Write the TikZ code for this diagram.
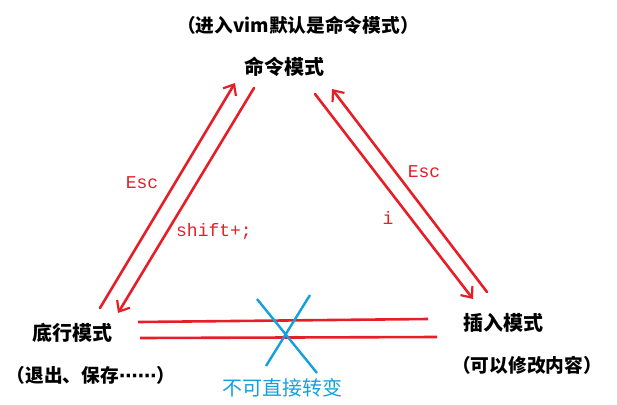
\documentclass[tikz,border=0pt]{standalone}
\usepackage{fontspec}
\setmonofont{Liberation Mono}
\newfontfamily\cjk{Noto Sans CJK SC}
\newfontfamily\symb{DejaVu Sans}
\usetikzlibrary{arrows.meta}
\definecolor{paintred}{RGB}{230,30,40}
\definecolor{paintblue}{RGB}{20,160,220}

\tikzset{
  mode/.style={anchor=center, font=\cjk\bfseries\fontsize{20}{24}\selectfont},
  note/.style={anchor=center, font=\cjk\bfseries\fontsize{18.7}{22}\selectfont},
  key/.style={anchor=center, text=paintred, font=\ttfamily\fontsize{18}{22}\selectfont},
  move/.style={paintred, line width=2.6pt, line cap=round, -{Straight Barb[length=9pt,width=15pt,line width=2.2pt]}},
  bar/.style={paintred, line width=2.6pt},
  cross/.style={paintblue, line width=2.4pt}
}

\begin{document}
\begin{tikzpicture}[x=1pt, y=-1pt]
      \useasboundingbox (0,0) rectangle (617,404);
      % modes
      \node[note] (title) at (298, 25) {（进入vim默认是命令模式）};
      \node[mode] (cmd) at (284, 67) {命令模式};
      \node[mode] (bottom) at (72, 333) {底行模式};
      \node[note] (bottomnote) at (91, 375) {（退出、保存{\symb\bfseries ⋯⋯}）};
      \node[mode] (insert) at (503, 323) {插入模式};
      \node[note] (insertnote) at (527, 365) {（可以修改内容）};
      % arrow ends
      \coordinate (lu0) at (100, 308);
      \coordinate (lu1) at (235, 83);
      \coordinate (ld0) at (254, 88);
      \coordinate (ld1) at (118, 313);
      \coordinate (rd0) at (315, 94);
      \coordinate (rd1) at (473, 299);
      \coordinate (ru0) at (487, 292);
      \coordinate (ru1) at (332, 89);
      \draw[move] (lu0) -- (lu1);
      \draw[move] (ld0) -- (ld1);
      \draw[move] (rd0) -- (rd1);
      \draw[move] (ru0) -- (ru1);
      \node[key] (escl) at (142, 183) {Esc};
      \node[key] (shift) at (214, 232) {shift+;};
      \node[key] (escr) at (424, 172) {Esc};
      \node[key] (ikey) at (388, 218) {i};
      % no direct way
      \coordinate (b0) at (138, 322);
      \coordinate (b1) at (428, 319);
      \coordinate (c0) at (140, 338);
      \coordinate (c1) at (437, 337);
      \draw[bar] (b0) -- (b1);
      \draw[bar] (c0) -- (c1);
      \coordinate (x0) at (257, 299);
      \coordinate (x1) at (317, 373);
      \coordinate (x2) at (266, 366);
      \coordinate (x3) at (310, 295);
      \draw[cross] (x0) -- (x1);
      \draw[cross] (x2) -- (x3);
      \node[anchor=center, text=paintblue, font=\cjk\fontsize{20}{24}\selectfont] (never) at (282, 388) {不可直接转变};
    \end{tikzpicture}
\end{document}
